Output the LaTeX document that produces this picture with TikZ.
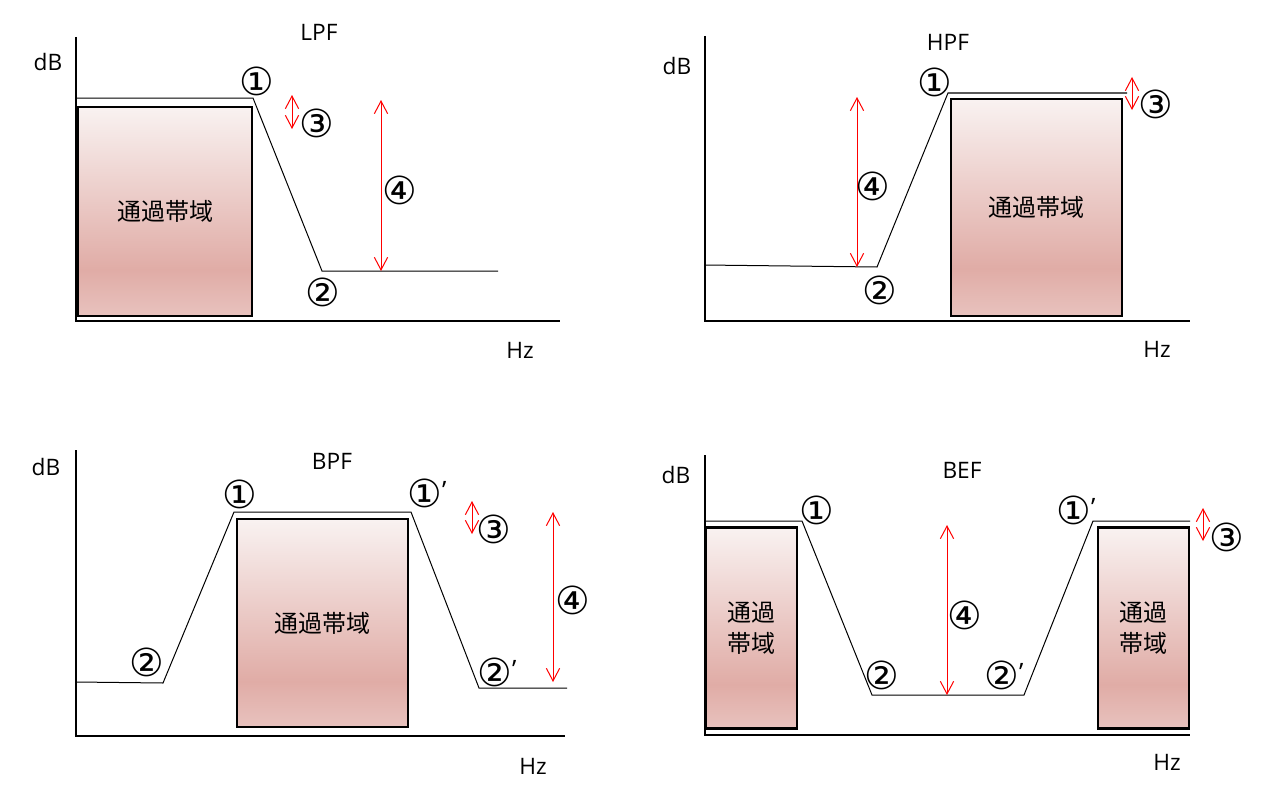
\documentclass[tikz,border=0pt]{standalone}
\usepackage{fontspec}
\setmainfont{Open Sans}
\newfontfamily\jpfont{Noto Sans CJK JP}
\newfontfamily\numfont{DejaVu Sans}
\usetikzlibrary{arrows.meta}
\definecolor{bandtop}{RGB}{249, 242, 241}
\definecolor{banddeep}{RGB}{224, 172, 166}
\definecolor{bandlow}{RGB}{232, 194, 190}
\definecolor{gapred}{RGB}{255, 0, 0}
\pgfdeclareverticalshading{passband}{100bp}{color(0bp)=(bandlow); color(25bp)=(bandlow); color(36bp)=(banddeep); color(75bp)=(bandtop); color(100bp)=(bandtop)}
\newcommand{\primemark}{\raisebox{6pt}{\rmfamily\fontsize{19}{19}\selectfont ’}}

\begin{document}
\begin{tikzpicture}[x=0.75pt, y=-0.75pt,
        axisline/.style={line width=0.9pt},
        response/.style={line width=0.75pt, line join=miter},
        band/.style={draw, line width=2.2pt, shade, shading=passband, font=\jpfont\fontsize{18}{23}\selectfont, align=center, inner sep=0pt},
        gap/.style={draw=gapred, line width=0.75pt, {Straight Barb[length=9.5pt, width=10pt]}-{Straight Barb[length=9.5pt, width=10pt]}},
        pointlabel/.style={font=\numfont\fontsize{29}{29}\selectfont, inner sep=0pt},
        unitlabel/.style={font=\fontsize{17}{17}\selectfont, inner sep=0pt}
    ]
        \useasboundingbox (0,0) rectangle (1270,792);

        % LPF
        \node[band, minimum width=130.5pt, minimum height=156.75pt] (lpfband) at (165,211.5) {通過帯域};
        \draw[axisline] (76,37) -- (76,321) -- (560,321);
        \coordinate (lpfa) at (76,98);
        \coordinate (lpfb) at (253,98);
        \coordinate (lpfc) at (322,271);
        \coordinate (lpfd) at (498,271);
        \draw[response] (lpfa) -- (lpfb) -- (lpfc) -- (lpfd);
        \coordinate (lpfg1) at (292,95);
        \coordinate (lpfg2) at (292,129);
        \coordinate (lpfh1) at (381,100);
        \coordinate (lpfh2) at (381,271);
        \draw[gap] (lpfg1) -- (lpfg2);
        \draw[gap] (lpfh1) -- (lpfh2);
        \node[pointlabel] (lpfp1) at (257,81) {①};
        \node[pointlabel] (lpfp2) at (323,292) {②};
        \node[pointlabel] (lpfp3) at (317,123) {③};
        \node[pointlabel] (lpfp4) at (400,190) {④};
        \node[unitlabel] (lpfdb) at (48,62) {dB};
        \node[unitlabel] (lpftitle) at (319,32) {LPF};
        \node[unitlabel] (lpfhz) at (520,350) {Hz};

        % HPF
        \node[band, minimum width=128.25pt, minimum height=162.75pt] (hpfband) at (1036.5,207.5) {通過帯域};
        \draw[axisline] (705,36) -- (705,321) -- (1190,321);
        \coordinate (hpfa) at (704,265);
        \coordinate (hpfb) at (877,267);
        \coordinate (hpfc) at (948,93);
        \coordinate (hpfd) at (1127,93);
        \draw[response] (hpfa) -- (hpfb) -- (hpfc) -- (hpfd);
        \coordinate (hpfg1) at (1132,77);
        \coordinate (hpfg2) at (1132,110);
        \coordinate (hpfh1) at (857,97);
        \coordinate (hpfh2) at (857,267);
        \draw[gap] (hpfg1) -- (hpfg2);
        \draw[gap] (hpfh1) -- (hpfh2);
        \node[pointlabel] (hpfp1) at (935,82) {①};
        \node[pointlabel] (hpfp2) at (880,290) {②};
        \node[pointlabel] (hpfp3) at (1156,104) {③};
        \node[pointlabel] (hpfp4) at (873,186) {④};
        \node[unitlabel] (hpfdb) at (677,66) {dB};
        \node[unitlabel] (hpftitle) at (948,42) {HPF};
        \node[unitlabel] (hpfhz) at (1157,349) {Hz};

        % BPF
        \node[band, minimum width=128.25pt, minimum height=156pt] (bpfband) at (322.5,623) {通過帯域};
        \draw[axisline] (76,450) -- (76,736) -- (565,736);
        \coordinate (bpfa) at (76,682);
        \coordinate (bpfb) at (163,683);
        \coordinate (bpfc) at (234,512);
        \coordinate (bpfd) at (411,512);
        \coordinate (bpfe) at (479,688);
        \coordinate (bpff) at (567,688);
        \draw[response] (bpfa) -- (bpfb) -- (bpfc) -- (bpfd) -- (bpfe) -- (bpff);
        \coordinate (bpfg1) at (472,501);
        \coordinate (bpfg2) at (472,534);
        \coordinate (bpfh1) at (553,512);
        \coordinate (bpfh2) at (553,682);
        \draw[gap] (bpfg1) -- (bpfg2);
        \draw[gap] (bpfh1) -- (bpfh2);
        \node[pointlabel] (bpfp1) at (240,494) {①};
        \node[pointlabel] (bpfp1b) at (427,493) {①\primemark};
        \node[pointlabel] (bpfp2) at (147,662) {②};
        \node[pointlabel] (bpfp2b) at (497,672) {②\primemark};
        \node[pointlabel] (bpfp3) at (494,529) {③};
        \node[pointlabel] (bpfp4) at (573,600) {④};
        \node[unitlabel] (bpfdb) at (46,467) {dB};
        \node[unitlabel] (bpftitle) at (332,461) {BPF};
        \node[unitlabel] (bpfhz) at (533,766) {Hz};

        % BEF
        \node[band, minimum width=68.25pt, minimum height=151pt] (befband1) at (751.5,628) {通過\\帯域};
        \node[band, minimum width=68.25pt, minimum height=151pt] (befband2) at (1143.5,628) {通過\\帯域};
        \draw[axisline] (705,455) -- (705,735) -- (1190,735);
        \coordinate (befa) at (705,521);
        \coordinate (befb) at (802,521);
        \coordinate (befc) at (872,695);
        \coordinate (befd) at (1024,695);
        \coordinate (befe) at (1093,521);
        \coordinate (beff) at (1190,521);
        \draw[response] (befa) -- (befb) -- (befc) -- (befd) -- (befe) -- (beff);
        \coordinate (befg1) at (1203,508);
        \coordinate (befg2) at (1203,541);
        \coordinate (befh1) at (947,525);
        \coordinate (befh2) at (947,695);
        \draw[gap] (befg1) -- (befg2);
        \draw[gap] (befh1) -- (befh2);
        \node[pointlabel] (befp1) at (817,510) {①};
        \node[pointlabel] (befp1b) at (1076,510) {①\primemark};
        \node[pointlabel] (befp2) at (882,675) {②};
        \node[pointlabel] (befp2b) at (1004,675) {②\primemark};
        \node[pointlabel] (befp3) at (1227,537) {③};
        \node[pointlabel] (befp4) at (965,615) {④};
        \node[unitlabel] (befdb) at (676,475) {dB};
        \node[unitlabel] (beftitle) at (962,470) {BEF};
        \node[unitlabel] (befhz) at (1167,762) {Hz};
    \end{tikzpicture}
\end{document}
